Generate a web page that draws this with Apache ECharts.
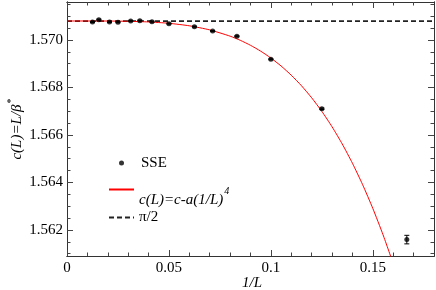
<!DOCTYPE html>
<html><head><meta charset="utf-8">
<script src="https://cdn.jsdelivr.net/npm/echarts@6/dist/echarts.min.js"></script>
<style>html,body{margin:0;padding:0;background:#fff}#c{width:436px;height:290px}</style>
</head><body><div id="c"></div>
<script>
// ---- data ----
const sseX = [0.0125, 0.015625, 0.020833, 0.025, 0.03125, 0.035714, 0.041667, 0.05, 0.0625, 0.071429, 0.083333, 0.1, 0.125, 0.166667];
const sseY = [1.570755, 1.570857, 1.570759, 1.570747, 1.570802, 1.570810, 1.570772, 1.570688, 1.570561, 1.570380, 1.570156, 1.569186, 1.567101, 1.561591];
const sseErr = [0.00002, 0.00002, 0.00002, 0.00002, 0.00002, 0.00002, 0.00002, 0.00002, 0.00002, 0.00002, 0.00002, 0.00002, 0.00003, 0.00018];
const fitX = [0, 0.02, 0.03, 0.04, 0.05, 0.06, 0.07, 0.08, 0.085, 0.09, 0.095, 0.1, 0.105, 0.11, 0.115, 0.12, 0.125, 0.13, 0.135, 0.14, 0.145, 0.15, 0.155, 0.16];
const fitY = [1.570800, 1.570798, 1.570787, 1.570760, 1.570703, 1.570598, 1.570425, 1.570161, 1.569986, 1.569776, 1.569529, 1.569240, 1.568904, 1.568516, 1.568072, 1.567565, 1.566991, 1.566344, 1.565618, 1.564807, 1.563904, 1.562903, 1.561796, 1.560576];
const piX = [0, 0.18];
const piY = [1.5707963, 1.5707963];
const xMajor = [0, 0.05, 0.1, 0.15];
const xMinor = [0.01, 0.02, 0.03, 0.04, 0.06, 0.07, 0.08, 0.09, 0.11, 0.12, 0.13, 0.14, 0.16, 0.17];
const yMajor = [1.562, 1.564, 1.566, 1.568, 1.570];
const yMinor = [1.561, 1.5615, 1.5625, 1.563, 1.5635, 1.5645, 1.565, 1.5655, 1.5665, 1.567, 1.5675, 1.5685, 1.569, 1.5695, 1.5705, 1.571, 1.5715];
const xLabels = ['0', '0.05', '0.1', '0.15'];
const yLabels = ['1.562', '1.564', '1.566', '1.568', '1.570'];
const X_MIN = 0, X_MAX = 0.18, Y_MIN = 1.5609, Y_MAX = 1.5716;

// ---- chart ----
const FONT = 'Liberation Serif';
const lineCol = '#333';
function axis(kind, pos, ticks, len, labels, extra) {
  const a = {
    type: 'value', position: pos,
    min: kind === 'x' ? X_MIN : Y_MIN, max: kind === 'x' ? X_MAX : Y_MAX,
    axisLine: { show: true, onZero: false, lineStyle: { color: lineCol, width: 1 } },
    axisTick: { show: true, inside: true, length: len, customValues: ticks, lineStyle: { color: '#444', width: 1 } },
    axisLabel: labels ? {
      show: true, customValues: ticks, color: '#000', fontFamily: FONT, fontSize: 15, margin: kind === 'x' ? 5 : 4,
      formatter: v => { const i = ticks.findIndex(t => Math.abs(t - v) < 1e-9); return i >= 0 ? labels[i] : ''; }
    } : { show: false },
    splitLine: { show: false }
  };
  return Object.assign(a, extra || {});
}
const chart = echarts.init(document.getElementById('c'), null, { renderer: 'canvas' });
const xy = (xs, ys) => xs.map((x, i) => [x, ys[i]]);
chart.setOption({
  animation: false,
  backgroundColor: '#fff',
  grid: { left: 67, right: 2, top: 2, bottom: 34, containLabel: false, outerBoundsMode: 'none' },
  xAxis: [
    axis('x', 'bottom', xMajor, 6, xLabels, {
      name: '1/L', nameLocation: 'middle', nameGap: 20, nameMoveOverlap: false,
      nameTextStyle: { fontFamily: FONT, fontSize: 15, fontStyle: 'italic', color: '#000', verticalAlign: 'top', padding: [0, 0, 0, 3] }
    }),
    axis('x', 'bottom', xMinor, 3.5, null),
    axis('x', 'top', xMajor, 6, null),
    axis('x', 'top', xMinor, 3.5, null)
  ],
  yAxis: [
    axis('y', 'left', yMajor, 6, yLabels, {
      name: '{m|c(L)=L/β}{s|*}', nameLocation: 'middle', nameGap: 42, nameMoveOverlap: false,
      nameTextStyle: { fontFamily: FONT, fontSize: 15, color: '#000',
        rich: { m: { fontFamily: FONT, fontSize: 15, fontStyle: 'italic', color: '#000', verticalAlign: 'bottom' },
                s: { fontFamily: FONT, fontSize: 10, color: '#000', verticalAlign: 'bottom', padding: [0, 0, 9, 1] } } }
    }),
    axis('y', 'left', yMinor, 3.5, null),
    axis('y', 'right', yMajor, 6, null),
    axis('y', 'right', yMinor, 3.5, null)
  ],
  legend: [
    { data: ['SSE'], left: 119, top: 155.5, padding: 0, itemWidth: 25, itemHeight: 5, selectedMode: false,
      formatter: n => '{g|}' + n,
      textStyle: { fontFamily: FONT, fontSize: 15, color: '#000', rich: { g: { width: 2 } } } },
    { data: ['fit'], left: 108, top: 182, padding: 0, itemWidth: 25, itemHeight: 14, selectedMode: false,
      itemStyle: { opacity: 0 },
      formatter: () => '{z|}{m|c(L)=c-a(1/L)}{s|4}',
      textStyle: { fontFamily: FONT, fontSize: 15, color: '#000',
        rich: { z: { width: 0, height: 36 },
                m: { fontFamily: FONT, fontSize: 15, fontStyle: 'italic', color: '#000', verticalAlign: 'bottom' },
                s: { fontFamily: FONT, fontSize: 10, fontStyle: 'italic', color: '#000', verticalAlign: 'bottom', padding: [0, 0, 11, 1] } } } },
    { data: ['π/2'], left: 108, top: 210, padding: 0, itemWidth: 25, itemHeight: 14, selectedMode: false,
      itemStyle: { opacity: 0 },
      textStyle: { fontFamily: FONT, fontSize: 15, color: '#000' } }
  ],
  series: [
    { name: 'π/2', type: 'line', data: xy(piX, piY), symbol: 'none', showSymbol: false, z: 2,
      lineStyle: { color: '#222', width: 1.6, type: [5, 3] }, itemStyle: { color: '#222' } },
    { name: 'fit', type: 'line', data: xy(fitX, fitY), symbol: 'none', showSymbol: false, smooth: 0.2, clip: true, z: 3,
      lineStyle: { color: '#ff0000', width: 1 }, itemStyle: { color: '#ff0000' } },
    { name: 'errbars', type: 'custom', z: 4, clip: true,
      data: sseX.map((x, i) => [x, sseY[i] - sseErr[i], sseY[i] + sseErr[i]]),
      renderItem: (params, api) => {
        const lo = api.coord([api.value(0), api.value(1)]);
        const hi = api.coord([api.value(0), api.value(2)]);
        const s = { stroke: '#000', lineWidth: 1 };
        return { type: 'group', children: [
          { type: 'line', shape: { x1: lo[0], y1: lo[1], x2: hi[0], y2: hi[1] }, style: s },
          { type: 'line', shape: { x1: lo[0] - 2.5, y1: lo[1], x2: lo[0] + 2.5, y2: lo[1] }, style: s },
          { type: 'line', shape: { x1: hi[0] - 2.5, y1: hi[1], x2: hi[0] + 2.5, y2: hi[1] }, style: s }
        ] };
      } },
    { name: 'SSE', type: 'scatter', data: xy(sseX, sseY), symbol: 'circle', symbolSize: 5, z: 5,
      itemStyle: { color: '#000' } }
  ]
});
</script></body></html>
